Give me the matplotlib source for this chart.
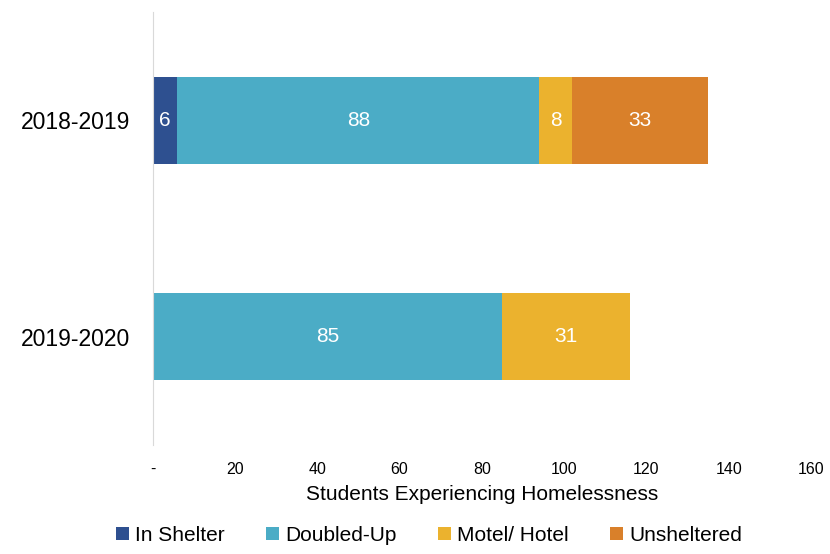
import matplotlib.pyplot as plt
import numpy as np

# Student homelessness by nighttime residence
years = ['2019-2020', '2018-2019']
categories = ['In Shelter', 'Doubled-Up', 'Motel/ Hotel', 'Unsheltered']
in_shelter = [0, 6]
doubled_up = [85, 88]
motel_hotel = [31, 8]
unsheltered = [0, 33]
colors = ['#2E5090', '#4BACC6', '#EBB22E', '#D9802A']
xticks = [0, 20, 40, 60, 80, 100, 120, 140, 160]
xtick_labels = ['-', '20', '40', '60', '80', '100', '120', '140', '160']

plt.rcParams['font.family'] = ['Liberation Sans', 'DejaVu Sans']

fig = plt.figure(figsize=(8.3, 5.54), dpi=100)
ax = fig.add_axes([0.184, 0.197, 0.793, 0.781])

series = [in_shelter, doubled_up, motel_hotel, unsheltered]
y = np.arange(len(years))
left = np.zeros(len(years))
for name, vals, col in zip(categories, series, colors):
    vals = np.array(vals, dtype=float)
    bars = ax.barh(y, vals, left=left, height=0.4, color=col, label=name)
    for b, v in zip(bars, vals):
        if v > 0:
            ax.text(b.get_x() + b.get_width() / 2, b.get_y() + b.get_height() / 2,
                    f'{int(v)}', ha='center', va='center', color='white', fontsize=15)
    left += vals

ax.set_xlim(0, 160)
ax.set_ylim(-0.5, 1.5)
ax.set_yticks(y)
ax.set_yticklabels(years, fontsize=16.5)
ax.set_xticks(xticks)
ax.set_xticklabels(xtick_labels, fontsize=11.5)
ax.tick_params(length=0)
ax.tick_params(axis='x', pad=12)
ax.tick_params(axis='y', pad=16)
for s in ['top', 'right', 'bottom']:
    ax.spines[s].set_visible(False)
ax.spines['left'].set_color('#D9D9D9')
ax.set_xlabel('Students Experiencing Homelessness', fontsize=15, labelpad=6)

ax.legend(loc='lower center', bbox_to_anchor=(0.42, -0.275), ncol=4, frameon=False,
          fontsize=15, handlelength=0.6, handleheight=0.6, handletextpad=0.3,
          columnspacing=2.0)

fig.savefig('out.png', dpi=100)
